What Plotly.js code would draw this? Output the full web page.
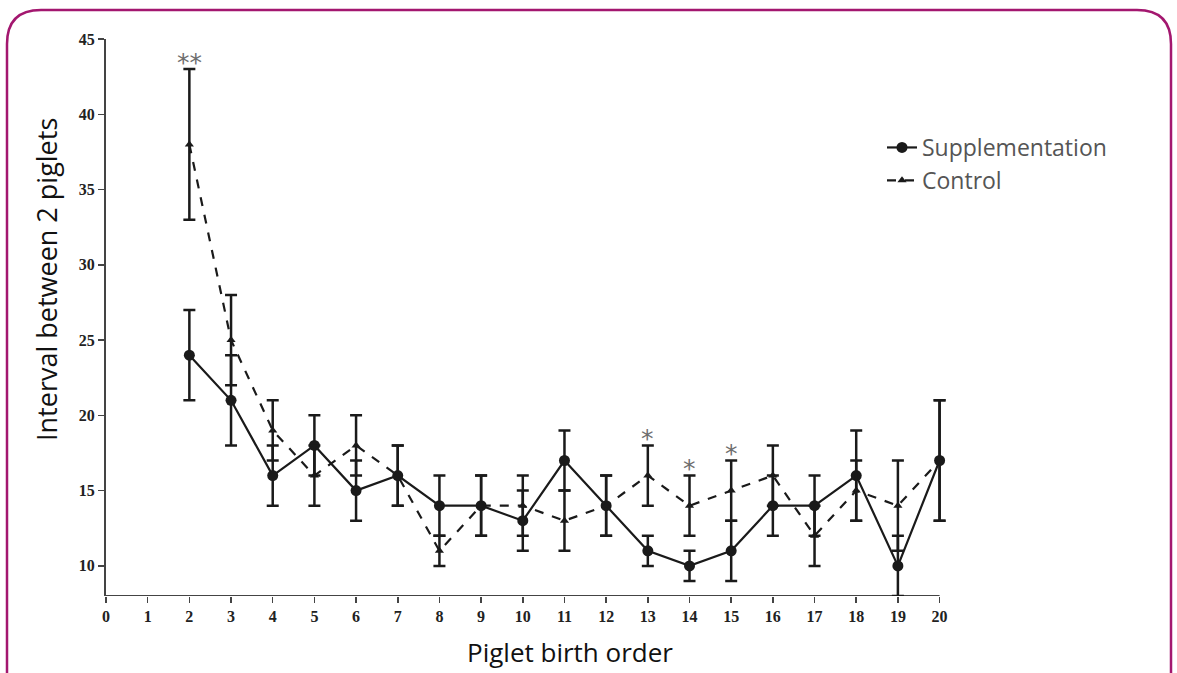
<!DOCTYPE html>
<html>
<head>
<meta charset="utf-8">
<script src="https://cdn.plot.ly/plotly-3.0.1.min.js"></script>
<style>html,body{margin:0;padding:0;background:#fff;}#chart{width:1177px;height:673px;}</style>
</head>
<body>
<div id="chart"></div>
<script>
const birthOrder = [2,3,4,5,6,7,8,9,10,11,12,13,14,15,16,17,18,19,20];
const suppMean = [24,21,16,18,15,16,14,14,13,17,14,11,10,11,14,14,16,10,17];
const suppErr  = [3,3,2,2,2,2,2,2,2,2,2,1,1,2,2,2,3,2,4];
const ctrlMean = [38,25,19,16,18,16,11,14,14,13,14,16,14,15,16,12,15,14,17];
const ctrlErr  = [5,3,2,2,2,2,1,2,2,2,2,2,2,2,2,2,2,3,4];
const sigOrder = [2,13,14,15];
const sigLabel = ['**','*','*','*'];
const xTicks = [0,1,2,3,4,5,6,7,8,9,10,11,12,13,14,15,16,17,18,19,20];
const yTicks = [10,15,20,25,30,35,40,45];

const W = 1177, H = 673;
const xMax = 20.25, yMin = 8;
const M = {l:106, r:Math.round(1177 - (106 + 834 * xMax / 20)), t:39, b:77};
const pw = W - M.l - M.r, ph = H - M.t - M.b;
const px = v => (v - M.l) / pw;
const py = v => 1 - (v - M.t) / ph;

const ink = '#1a1a1a';
const traces = [
  {
    x: birthOrder, y: suppMean, name: 'Supplementation', type: 'scatter', mode: 'lines+markers',
    cliponaxis: false,
    line: {color: ink, width: 2.2},
    marker: {symbol: 'circle', size: 11, color: ink},
    error_y: {type: 'data', array: suppErr, visible: true, color: ink, thickness: 2.5, width: 6}
  },
  {
    x: birthOrder, y: ctrlMean, name: 'Control', type: 'scatter', mode: 'lines+markers',
    cliponaxis: false,
    line: {color: ink, width: 2.2, dash: 'dash'},
    marker: {symbol: 'triangle-up', size: 8, color: ink},
    error_y: {type: 'data', array: ctrlErr, visible: true, color: ink, thickness: 2.5, width: 6}
  }
];

const annotations = sigOrder.map((o, i) => {
  const k = birthOrder.indexOf(o);
  return {x: o, y: ctrlMean[k] + ctrlErr[k] + 0.45, xref: 'x', yref: 'y', text: sigLabel[i],
    showarrow: false, yanchor: 'middle', font: {family: 'DejaVu Sans', size: 25, color: '#6e6e6e'}};
});
annotations.push({
  text: 'Interval between 2 piglets', xref: 'paper', yref: 'paper', x: px(46), y: py(280),
  textangle: -90, showarrow: false, xanchor: 'center', yanchor: 'middle',
  font: {family: 'Open Sans', size: 27, color: '#111'}
});
annotations.push({
  text: 'Piglet birth order', xref: 'paper', yref: 'paper', x: px(570), y: py(652),
  showarrow: false, xanchor: 'center', yanchor: 'middle',
  font: {family: 'Open Sans', size: 26, color: '#111'}
});

// rounded border frame
const L = 7, T = 10, R = 1171, B = 720, rad = 34;
const borderPath = [
  `M ${px(L)} ${py(B)}`,
  `L ${px(L)} ${py(T + rad)}`,
  `Q ${px(L)} ${py(T)} ${px(L + rad)} ${py(T)}`,
  `L ${px(R - rad)} ${py(T)}`,
  `Q ${px(R)} ${py(T)} ${px(R)} ${py(T + rad)}`,
  `L ${px(R)} ${py(B)}`
].join(' ');

const layout = {
  width: W, height: H,
  margin: M,
  paper_bgcolor: '#fff', plot_bgcolor: '#fff',
  showlegend: true,
  legend: {x: px(882), y: py(126), xanchor: 'left', yanchor: 'top', bgcolor: 'rgba(0,0,0,0)',
    font: {family: 'Open Sans', size: 23, color: '#555'}, tracegroupgap: 0},
  xaxis: {range: [0, xMax], tickvals: xTicks, ticktext: xTicks.map(String), showgrid: false, zeroline: false,
    showline: false, ticks: 'outside', ticklen: 6, tickcolor: '#444', tickwidth: 1.5,
    tickfont: {family: 'Liberation Serif', size: 16, color: '#222', weight: 'bold'}},
  yaxis: {range: [yMin, 45], tickvals: yTicks, ticktext: yTicks.map(String), showgrid: false, zeroline: false,
    showline: true, linecolor: '#444', linewidth: 2, ticks: 'outside', ticklen: 6, tickcolor: '#444', tickwidth: 1.5,
    tickfont: {family: 'Liberation Serif', size: 16, color: '#222', weight: 'bold'}},
  annotations: annotations,
  shapes: [
    {type: 'line', xref: 'x', yref: 'y', x0: 0, x1: 20, y0: yMin, y1: yMin, line: {color: '#444', width: 2}, layer: 'below'},
    {type: 'path', xref: 'paper', yref: 'paper', path: borderPath, line: {color: '#a3176f', width: 2.5}, layer: 'above'}
  ]
};

Plotly.newPlot('chart', traces, layout, {displayModeBar: false, staticPlot: true});
</script>
</body>
</html>
